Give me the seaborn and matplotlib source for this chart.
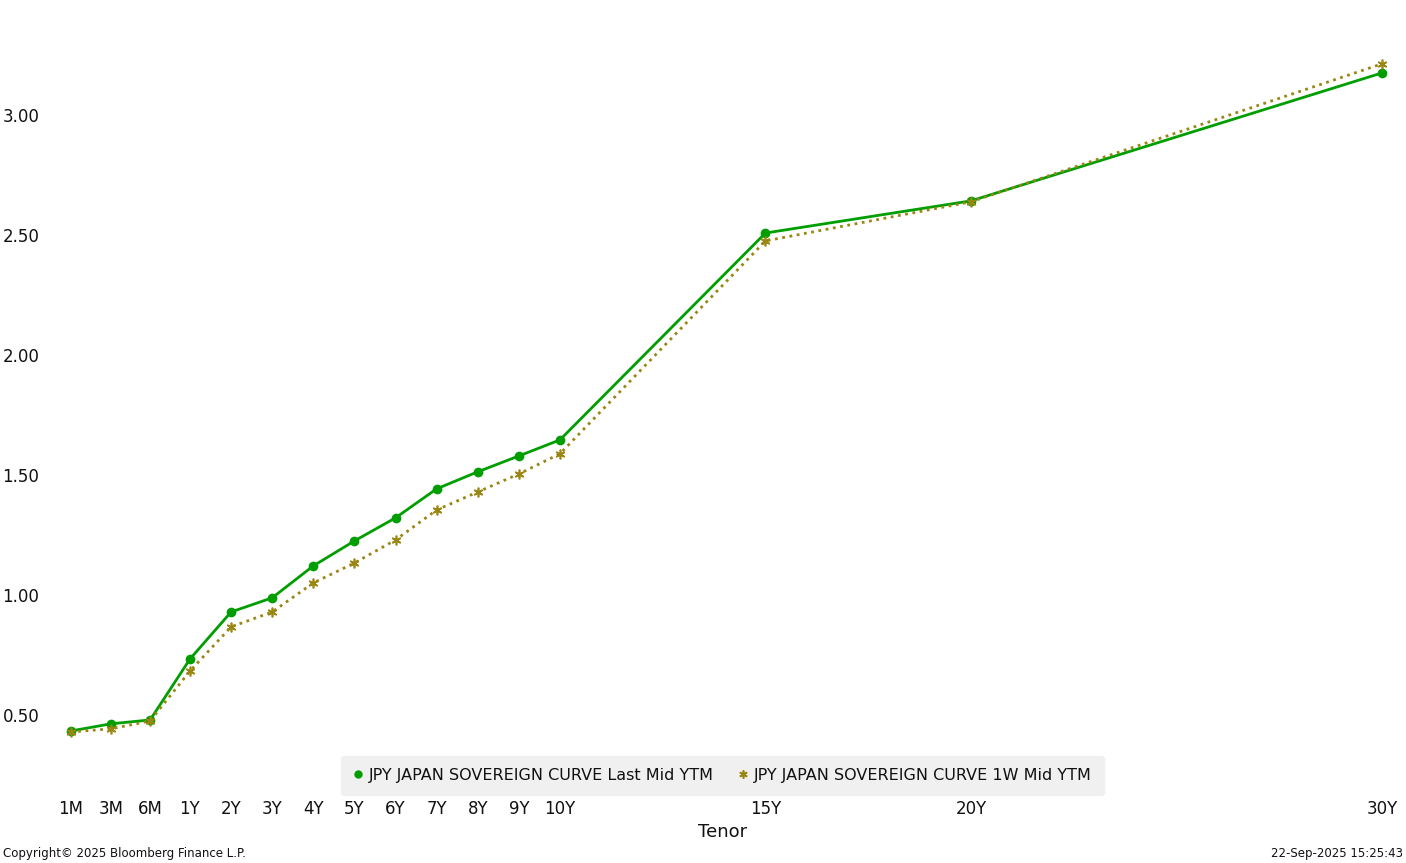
import matplotlib
matplotlib.use("Agg")
import matplotlib.pyplot as plt
import seaborn as sns
import pandas as pd

# ============== DATA ==============
tenors = ["1M", "3M", "6M", "1Y", "2Y", "3Y", "4Y", "5Y", "6Y", "7Y", "8Y", "9Y", "10Y", "15Y", "20Y", "30Y"]
# axis position of each tenor (short end squeezed, then one unit per year)
tenor_pos = [0.1, 1.08, 2.03, 3, 4, 5, 6, 7, 8, 9, 10, 11, 12, 17, 22, 32]
last_mid = [0.433, 0.463, 0.479, 0.733, 0.929, 0.988, 1.121, 1.225, 1.321, 1.442,
            1.513, 1.579, 1.646, 2.508, 2.642, 3.175]
week_mid = [0.429, 0.442, 0.475, 0.683, 0.867, 0.929, 1.050, 1.133, 1.229, 1.354,
            1.429, 1.504, 1.588, 2.475, 2.638, 3.213]
y_ticks = [0.5, 1.0, 1.5, 2.0, 2.5, 3.0]

label_last = "JPY JAPAN SOVEREIGN CURVE Last Mid YTM"
label_week = "JPY JAPAN SOVEREIGN CURVE 1W Mid YTM"

df = pd.DataFrame({"pos": tenor_pos, "last": last_mid, "week": week_mid})

# ============== PLOT ==============
sns.set_style("white")
plt.rcParams["font.family"] = ["DejaVu Sans"]
plt.rcParams["text.color"] = "#111111"

fig = plt.figure(figsize=(14.06, 8.63), dpi=100)
ax = fig.add_axes([0.032, 0.079, 0.9637, 0.921])

green = "#009e00"
olive = "#9a8612"

sns.lineplot(data=df, x="pos", y="last", ax=ax, color=green, linewidth=2,
             marker="o", markersize=7, markeredgewidth=0, label=label_last)
sns.lineplot(data=df, x="pos", y="week", ax=ax, color=olive, linewidth=2,
             linestyle=":", marker=(6, 2, 0), markersize=7, markeredgewidth=1.2,
             markeredgecolor=olive, label=label_week)

ax.set_xlim(-0.528, 32.438)
ax.set_ylim(0.167, 3.479)
ax.set_xticks(tenor_pos)
ax.set_xticklabels(tenors)
ax.set_yticks(y_ticks)
ax.set_yticklabels([f"{v:.2f}" for v in y_ticks])
ax.tick_params(axis="both", length=0, labelsize=12, colors="#111111")
ax.tick_params(axis="y", pad=4)
ax.tick_params(axis="x", pad=4)
ax.set_xlabel("Tenor", fontsize=13, labelpad=3, color="#111111")
ax.set_ylabel("")
sns.despine(ax=ax, left=True, bottom=True)

leg = ax.legend(loc="lower center", ncol=2, frameon=True, fontsize=11.5,
                facecolor="#f0f0f0", edgecolor="#f0f0f0", framealpha=1,
                handlelength=0.6, handletextpad=0.4, columnspacing=1.5,
                borderpad=0.75, borderaxespad=0.0, bbox_to_anchor=(0.5, 0.0))
for h in leg.legend_handles:
    h.set_linestyle("None")
    h.set_markersize(6)
for t in leg.get_texts():
    t.set_color("#111111")

fig.text(0.002, 0.003, "Copyright\u00a9 2025 Bloomberg Finance L.P.", fontsize=8.5, ha="left", va="bottom")
fig.text(0.998, 0.003, "22-Sep-2025 15:25:43", fontsize=8.5, ha="right", va="bottom")

fig.savefig("out.png", dpi=100)
